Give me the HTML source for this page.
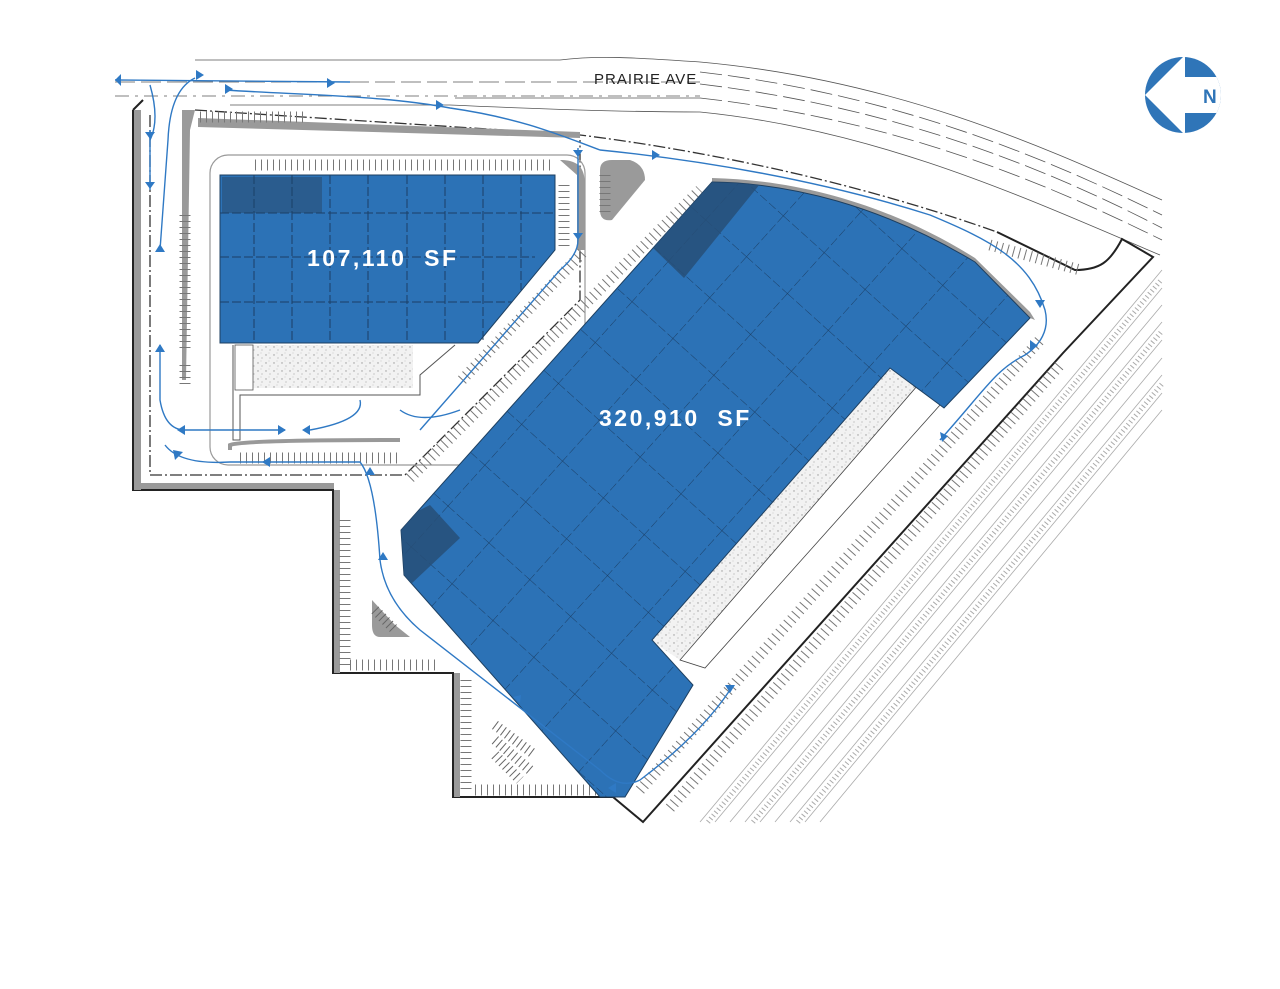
<!DOCTYPE html>
<html><head><meta charset="utf-8"><style>
html,body{margin:0;padding:0;background:#fff;}
svg{display:block}
text{font-family:"Liberation Sans",sans-serif}
</style></head><body>
<svg width="1280" height="989" viewBox="0 0 1280 989" xmlns="http://www.w3.org/2000/svg">
<defs>
<pattern id="grid" width="55" height="55" patternUnits="userSpaceOnUse" patternTransform="rotate(42 700 450)">
<path d="M0 0H55M0 0V55" stroke="#1b3f66" stroke-width="1" stroke-dasharray="9 3" fill="none"/>
</pattern>
<pattern id="speck" width="8" height="8" patternUnits="userSpaceOnUse">
<rect width="8" height="8" fill="#f2f2f2"/><circle cx="2" cy="3" r="0.7" fill="#999"/><circle cx="6" cy="6" r="0.6" fill="#aaa"/><circle cx="5" cy="1" r="0.5" fill="#bbb"/>
</pattern>
<clipPath id="bigclip"><path d="M712,182 C790,183 880,205 975,262 L1030,318 L944,408 L890,368 L652,640 L693,685 L625,797 L600,797 L404,575 L401,530 Z"/></clipPath>
<clipPath id="cc"><circle cx="1183" cy="95" r="38"/></clipPath>
</defs>

<!-- road lines -->
<g fill="none" stroke="#555" stroke-width="0.8">
<path d="M195,60 L560,60 C600,55 640,58 700,62 C900,80 1050,150 1162,200"/>
<path d="M115,82 L700,82" stroke-dasharray="20 6"/>
<path d="M115,96 L700,96" stroke-dasharray="14 6 3 6"/>
<path d="M700,72 C900,95 1050,160 1162,215" stroke-dasharray="22 6"/>
<path d="M700,84 C900,108 1050,170 1162,228" stroke-dasharray="22 6"/>
<path d="M700,98 C900,120 1050,185 1162,240" stroke-dasharray="22 6"/>
<path d="M230,105 L450,105 C560,110 640,112 700,112 C880,130 1030,200 1160,255"/>
<path d="M455,98 L560,98 C620,98 680,98 700,98"/>
</g>
<text x="594" y="84" font-size="15" fill="#222" letter-spacing="1">PRAIRIE AVE</text>

<!-- rail lines -->
<g fill="none" stroke="#aaa" stroke-width="0.8">
<path d="M700,822 L1162,270"/><path d="M715,822 L1162,288"/><path d="M730,822 L1162,305"/>
<path d="M745,822 L1162,322"/><path d="M760,822 L1162,340"/><path d="M775,822 L1162,358"/>
<path d="M790,822 L1162,375"/><path d="M805,822 L1162,393"/><path d="M820,822 L1162,410"/>
</g>
<g fill="none" stroke="#aaa" stroke-width="5" stroke-dasharray="1 3">
<path d="M708,822 L1162,279"/><path d="M753,822 L1162,331"/><path d="M798,822 L1162,384"/>
</g>

<!-- site boundary -->
<g fill="none" stroke="#222" stroke-width="2">
<path d="M133,110 L133,490 L333,490 L333,673 L453,673 L453,797 L613,797 L643,822 L1063,353 L1153,257 L1122,239 C1110,262 1100,270 1075,270 L997,232"/>
<path d="M133,110 L143,100"/>
</g>
<g fill="none" stroke="#333" stroke-width="1.3" stroke-dasharray="12 3 2 3">
<path d="M150,115 L150,475 L405,475 L580,300 L580,140"/>
<path d="M195,110 L580,135 C700,150 850,180 997,232"/>
</g>
<!-- gray curb bands -->
<g fill="#9a9a9a">
<rect x="134" y="110" width="7" height="380"/>
<rect x="134" y="483" width="200" height="6"/>
<rect x="334" y="490" width="6" height="183"/>
<rect x="454" y="673" width="6" height="124"/>
<path d="M182,110 L195,110 L190,130 L186,380 L182,380 Z"/>
<path d="M198,118 L580,132 L580,138 L198,127 Z"/>
<path d="M560,160 C585,160 585,175 585,190 L585,250 L577,250 L577,175 Z"/>
<path d="M712,178 C800,180 890,205 975,258 L1030,312 L1035,320 L1030,318 L975,262 C880,205 790,183 712,182 Z"/>
</g>
<rect x="210" y="155" width="375" height="310" rx="18" fill="none" stroke="#999" stroke-width="1.2"/>
<path d="M600,170 Q600,160 612,160 L630,160 Q645,165 645,180 L612,220 Q600,222 600,210 Z" fill="#9a9a9a"/>
<path d="M372,600 L395,625 L410,637 L380,637 Q372,637 372,625 Z" fill="#9a9a9a"/>

<!-- parking stripe rows -->
<g fill="none" stroke="#777" stroke-width="11" stroke-dasharray="1 5">
<path d="M200,117 L305,117"/>
<path d="M255,165 L555,165"/>
<path d="M564,185 L564,250"/>
<path d="M185,215 L185,350"/>
<path d="M185,365 L185,385"/>
<path d="M240,458 L400,458"/>
<path d="M345,520 L345,665"/>
<path d="M466,680 L466,790"/>
<path d="M475,790 L600,790"/>
<path d="M350,665 L440,665"/>
<path d="M462,380 L585,250" />
<path d="M410,478 L700,190"/>
<path d="M640,790 L1040,340"/>
<path d="M670,808 L1060,365"/>
<path d="M990,245 L1080,270"/>
<path d="M605,175 L605,215"/>
</g>
<g fill="none" stroke="#666" stroke-width="10" stroke-dasharray="1 4">
<path d="M495,725 L535,755"/><path d="M495,740 L530,770"/><path d="M495,755 L520,780"/>
<path d="M375,610 L395,630"/>
</g>

<rect x="253" y="345" width="160" height="43" fill="url(#speck)"/>
<rect x="235" y="345" width="18" height="45" fill="#fff" stroke="#555" stroke-width="0.8"/>
<path d="M233,345 L233,440 L240,440 L240,395 L420,395 L420,375 L455,345" fill="none" stroke="#555" stroke-width="1"/>
<path d="M230,450 L230,445 Q240,440 400,440" fill="none" stroke="#999" stroke-width="4"/>

<path d="M888,368 L918,385 L680,660 L650,640 Z" fill="url(#speck)"/>
<path d="M918,385 L940,405 L705,668 L680,660 Z" fill="#fff" stroke="#444" stroke-width="0.8"/>

<!-- small building -->
<path d="M220,175 L555,175 L555,250 L478,343 L220,343 Z" fill="#2c72b6" stroke="#1d3f60" stroke-width="1"/>
<rect x="222" y="177" width="100" height="36" fill="#2a5c8e"/>
<g stroke="#1b3f66" stroke-width="1" stroke-dasharray="9 3" fill="none">
<path d="M254,175V343M292,175V343M330,175V343M368,175V343M407,175V343M445,175V343M483,175V343M521,175V290"/>
<path d="M220,213H555M220,257H535M220,302H512"/>
</g>
<text x="307" y="266" font-size="23" font-weight="bold" fill="#fff" letter-spacing="2.5">107,110&#160;&#160;SF</text>

<!-- big building -->
<path d="M712,182 C790,183 880,205 975,262 L1030,318 L944,408 L890,368 L652,640 L693,685 L625,797 L600,797 L404,575 L401,530 Z" fill="#2c72b6" stroke="#1d3f60" stroke-width="1"/>
<g clip-path="url(#bigclip)">
<rect x="350" y="150" width="720" height="680" fill="url(#grid)"/>
<path d="M712,182 L760,184 L684,278 L650,245 Z" fill="#274f78" opacity="0.85"/>
<path d="M400,520 L430,505 L460,538 L410,585 L400,575 Z" fill="#274f78" opacity="0.85"/>
</g>
<text x="599" y="426" font-size="23" font-weight="bold" fill="#fff" letter-spacing="2.5">320,910&#160;&#160;SF</text>

<!-- circulation paths -->
<g fill="none" stroke="#2f79c4" stroke-width="1.4">
<path d="M115,80 L350,82"/>
<path d="M150,85 Q160,120 150,140"/>
<path d="M150,130 L150,190"/>
<path d="M195,78 Q170,90 168,140 L160,250"/>
<path d="M225,90 C300,95 380,95 450,108 C520,118 560,135 600,150 C700,160 820,180 930,215 C990,240 1030,260 1045,310 C1050,330 1040,345 1025,355 C995,370 985,390 940,440"/>
<path d="M578,148 L578,240 Q578,255 560,270 L420,430"/>
<path d="M400,410 Q420,425 460,410"/>
<path d="M360,400 Q365,420 310,430"/>
<path d="M160,345 L160,400 Q165,430 185,430 L285,430"/>
<path d="M165,445 Q180,465 230,462 L360,462 Q375,480 380,560 Q385,600 420,630 L600,770 Q620,790 640,780 C680,750 710,720 730,690"/>
</g>
<g fill="#2f79c4">
<path d="M121,74 l0,12 l-6,-6z"/>
<path d="M196,80 l0,-10 l8,5z"/>
<path d="M225,84 l0,10 l8,-5z"/>
<path d="M327,78 l0,10 l8,-5z"/>
<path d="M436,100 l0,10 l8,-5z"/>
<path d="M652,150 l0,10 l8,-5z"/>
<path d="M145,132 l10,0 l-5,7z"/>
<path d="M145,182 l10,0 l-5,7z"/>
<path d="M155,252 l10,0 l-5,-8z"/>
<path d="M155,352 l10,0 l-5,-8z"/>
<path d="M573,150 l10,0 l-5,7z"/>
<path d="M573,233 l10,0 l-5,7z"/>
<path d="M1035,300 l10,0 l-5,8z"/>
<path d="M1030,340 l8,6 l-8,4z"/>
<path d="M940,432 l8,4 l-6,6z"/>
<path d="M278,425 l0,10 l8,-5z"/>
<path d="M185,425 l0,10 l-8,-5z"/>
<path d="M310,425 l0,10 l-8,-5z"/>
<path d="M270,457 l0,10 l-8,-5z"/>
<path d="M175,460 l8,-8 l-10,-2z"/>
<path d="M365,475 l10,0 l-5,-8z"/>
<path d="M378,560 l10,0 l-5,-8z"/>
<path d="M513,697 l8,-2 l-1,8z"/>
<path d="M616,783 l0,10 l-8,-5z"/>
<path d="M725,685 l10,0 l-5,8z"/>
</g>

<!-- compass -->
<circle cx="1183" cy="95" r="38" fill="#2f75b8"/>
<path clip-path="url(#cc)" d="M1145,95 L1185,55 L1185,77 L1225,77 L1225,113 L1185,113 L1185,135 Z" fill="#fff"/>
<text x="1203" y="103" font-size="19" font-weight="bold" fill="#2f75b8">N</text>
</svg>
</body></html>
